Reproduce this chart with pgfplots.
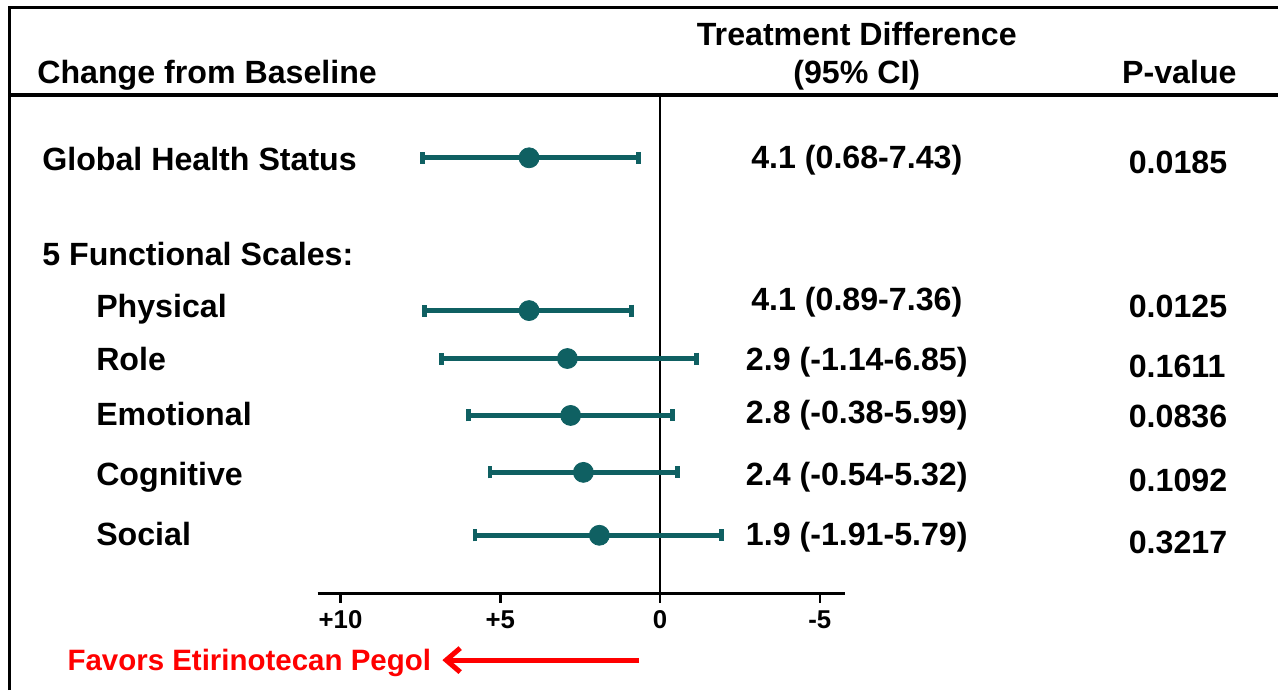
\documentclass[border=0pt]{standalone}
\usepackage{pgfplots}
\pgfplotsset{compat=1.18}
\usepackage{fontspec}
\setmainfont{Liberation Sans}
\usetikzlibrary{arrows.meta}
\definecolor{teal1}{RGB}{15,96,98}
\definecolor{red1}{RGB}{255,0,0}
\newcommand{\fm}{\fontsize{16.1}{18}\selectfont\bfseries}
\newcommand{\ft}{\fontsize{12.9}{15}\selectfont\bfseries}
\newcommand{\fr}{\fontsize{14.75}{17}\selectfont\bfseries}
\begin{document}
\begin{tikzpicture}
\begin{axis}[
  scale only axis, width=640pt, height=345.5pt,
  xmin=-19.34375, xmax=20.65625, x dir=reverse,
  ymin=0, ymax=691, y dir=reverse,
  hide axis, clip=false,
]
\path (rel axis cs:0,0) rectangle (rel axis cs:1,1);
% frame
\draw[line width=1.5pt] (axis cs:20.344,691) -- (axis cs:20.344,8) -- (axis cs:-19.34375,8);
\draw[line width=1.75pt] (axis cs:20.344,95) -- (axis cs:-19.34375,95);
% zero line and x axis
\draw[line width=1.2pt] (axis cs:0,96) -- (axis cs:0,594);
\draw[line width=1.3pt] (axis cs:10.719,594) -- (axis cs:-5.781,594);
\draw[line width=1.3pt] (axis cs:10,594) -- (axis cs:10,604);
\draw[line width=1.3pt] (axis cs:5,594) -- (axis cs:5,604);
\draw[line width=1.3pt] (axis cs:0,594) -- (axis cs:0,604);
\draw[line width=1.3pt] (axis cs:-5,594) -- (axis cs:-5,604);
\node[anchor=base, inner sep=0pt, font=\ft] at (axis cs:10,629) {+10};
\node[anchor=base, inner sep=0pt, font=\ft] at (axis cs:5,629) {+5};
\node[anchor=base, inner sep=0pt, font=\ft] at (axis cs:0,629) {0};
\node[anchor=base, inner sep=0pt, font=\ft] at (axis cs:-5,629) {-5};
% headers
\node[anchor=base west, inner sep=0pt, font=\fm] at (axis cs:19.5,84) {Change from Baseline};
\node[anchor=base, inner sep=0pt, font=\fm] at (axis cs:-6.156,46) {Treatment Difference};
\node[anchor=base, inner sep=0pt, font=\fm] at (axis cs:-6.156,84) {(95\% CI)};
\node[anchor=base, inner sep=0pt, font=\fm] at (axis cs:-16.25,84) {P-value};
% row labels
\node[anchor=base west, inner sep=0pt, font=\fm] at (axis cs:19.344,171) {Global Health Status};
\node[anchor=base west, inner sep=0pt, font=\fm] at (axis cs:19.344,266) {5 Functional Scales:};
\node[anchor=base west, inner sep=0pt, font=\fm] at (axis cs:17.656,318) {Physical};
\node[anchor=base west, inner sep=0pt, font=\fm] at (axis cs:17.656,371) {Role};
\node[anchor=base west, inner sep=0pt, font=\fm] at (axis cs:17.656,426) {Emotional};
\node[anchor=base west, inner sep=0pt, font=\fm] at (axis cs:17.656,486) {Cognitive};
\node[anchor=base west, inner sep=0pt, font=\fm] at (axis cs:17.656,546) {Social};
% CI texts
\node[anchor=base, inner sep=0pt, font=\fm] at (axis cs:-6.156,169) {4.1 (0.68-7.43)};
\node[anchor=base, inner sep=0pt, font=\fm] at (axis cs:-6.156,311) {4.1 (0.89-7.36)};
\node[anchor=base, inner sep=0pt, font=\fm] at (axis cs:-6.156,371) {2.9 (-1.14-6.85)};
\node[anchor=base, inner sep=0pt, font=\fm] at (axis cs:-6.156,424) {2.8 (-0.38-5.99)};
\node[anchor=base, inner sep=0pt, font=\fm] at (axis cs:-6.156,486) {2.4 (-0.54-5.32)};
\node[anchor=base, inner sep=0pt, font=\fm] at (axis cs:-6.156,546) {1.9 (-1.91-5.79)};
% p-values
\node[anchor=base west, inner sep=0pt, font=\fm] at (axis cs:-14.656,174) {0.0185};
\node[anchor=base west, inner sep=0pt, font=\fm] at (axis cs:-14.656,318) {0.0125};
\node[anchor=base west, inner sep=0pt, font=\fm] at (axis cs:-14.656,378) {0.1611};
\node[anchor=base west, inner sep=0pt, font=\fm] at (axis cs:-14.656,428) {0.0836};
\node[anchor=base west, inner sep=0pt, font=\fm] at (axis cs:-14.656,492) {0.1092};
\node[anchor=base west, inner sep=0pt, font=\fm] at (axis cs:-14.656,554) {0.3217};
% favors arrow
\draw[red1, line width=2.5pt, -{Straight Barb[length=7pt,width=12pt,line width=2.5pt]}] (axis cs:0.656,661) -- (axis cs:6.8125,661);
\node[anchor=base east, inner sep=0pt, font=\fr, text=red1] at (axis cs:7.156,671.5) {Favors Etirinotecan Pegol};
% data
\addplot[only marks, mark=*, mark size=5pt, color=teal1,
  mark options={fill=teal1, draw=teal1},
  error bars/.cd, x dir=both, x explicit,
  error bar style={line width=2.4pt, teal1},
  error mark options={line width=2.4pt, mark size=3pt, rotate=90, teal1}]
coordinates {
  (4.1,158) -= (3.42,0) += (3.33,0)
  (4.1,311) -= (3.21,0) += (3.26,0)
  (2.9,359) -= (4.04,0) += (3.95,0)
  (2.8,416) -= (3.18,0) += (3.19,0)
  (2.4,473) -= (2.94,0) += (2.92,0)
  (1.9,536) -= (3.81,0) += (3.89,0)
};
\end{axis}
\end{tikzpicture}
\end{document}
